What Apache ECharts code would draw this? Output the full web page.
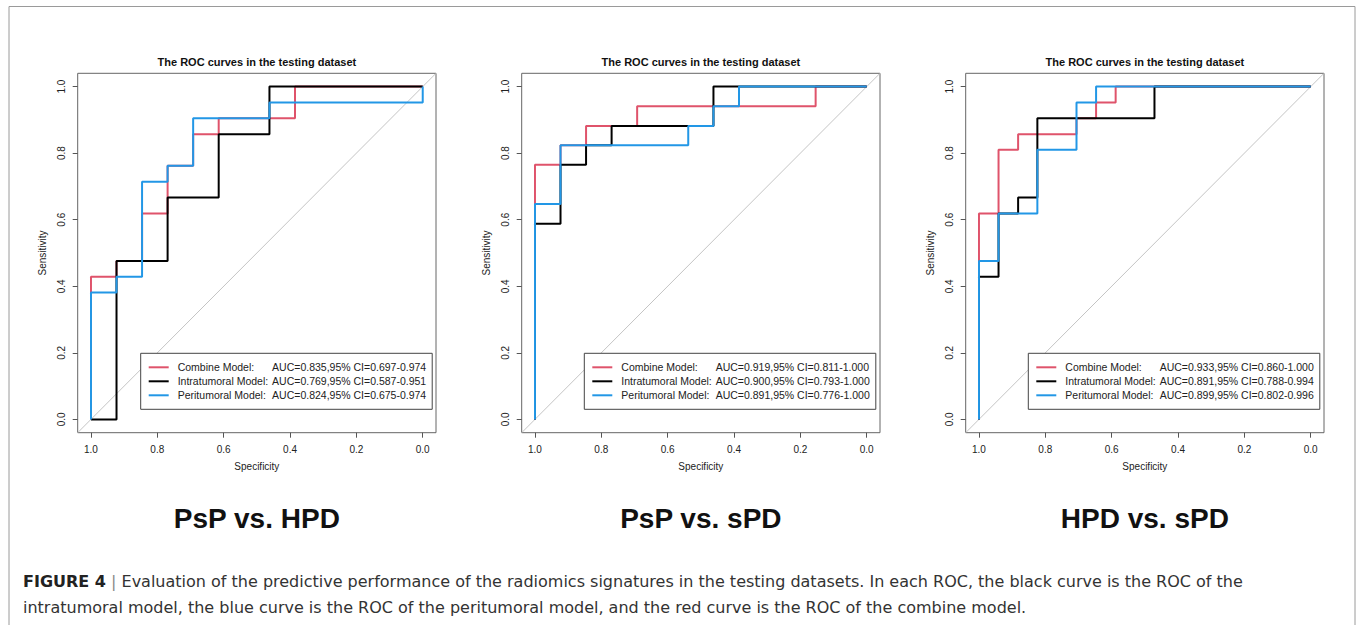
<!DOCTYPE html>
<html>
<head>
<meta charset="utf-8">
<script src="https://cdn.jsdelivr.net/npm/echarts@6/dist/echarts.min.js"></script>
<style>
html,body{margin:0;padding:0;background:#fff;}
#chart{width:1357px;height:625px;}
</style>
</head>
<body>
<div id="chart"></div>
<script>
// ---- tick labels ----
const SPEC_TICKS = [0, 0.2, 0.4, 0.6, 0.8, 1.0];
const SENS_TICKS = [0, 0.2, 0.4, 0.6, 0.8, 1.0];

// ---- panel texts ----
const PLOT_TITLE = 'The ROC curves in the testing dataset';
const PANEL_LABELS = ['PsP vs. HPD', 'PsP vs. sPD', 'HPD vs. sPD'];
const MODEL_NAMES = ['Combine Model:', 'Intratumoral Model:', 'Peritumoral Model:'];
const AUC_P1 = ['AUC=0.835,95% CI=0.697-0.974', 'AUC=0.769,95% CI=0.587-0.951', 'AUC=0.824,95% CI=0.675-0.974'];
const AUC_P2 = ['AUC=0.919,95% CI=0.811-1.000', 'AUC=0.900,95% CI=0.793-1.000', 'AUC=0.891,95% CI=0.776-1.000'];
const AUC_P3 = ['AUC=0.933,95% CI=0.860-1.000', 'AUC=0.891,95% CI=0.788-0.994', 'AUC=0.899,95% CI=0.802-0.996'];

// ---- chance diagonal (abline across plot region) ----
const DIAG_SPEC = [1.04, -0.04];
const DIAG_SENS = [-0.04, 1.04];

// ---- Panel 1: PsP vs. HPD ----
const P1_COMBINE_SPEC = [1, 1, 0.923, 0.923, 0.846, 0.846, 0.769, 0.769, 0.692, 0.692, 0.615, 0.615, 0.385, 0.385, 0];
const P1_COMBINE_SENS = [0, 0.429, 0.429, 0.476, 0.476, 0.619, 0.619, 0.762, 0.762, 0.857, 0.857, 0.905, 0.905, 1, 1];
const P1_INTRA_SPEC = [1, 0.923, 0.923, 0.769, 0.769, 0.615, 0.615, 0.462, 0.462, 0];
const P1_INTRA_SENS = [0, 0, 0.476, 0.476, 0.667, 0.667, 0.857, 0.857, 1, 1];
const P1_PERI_SPEC = [1, 1, 0.923, 0.923, 0.846, 0.846, 0.769, 0.769, 0.692, 0.692, 0.462, 0.462, 0, 0];
const P1_PERI_SENS = [0, 0.381, 0.381, 0.429, 0.429, 0.714, 0.714, 0.762, 0.762, 0.905, 0.905, 0.952, 0.952, 1];

// ---- Panel 2: PsP vs. sPD ----
const P2_COMBINE_SPEC = [1, 1, 0.923, 0.923, 0.846, 0.846, 0.692, 0.692, 0.154, 0.154, 0];
const P2_COMBINE_SENS = [0, 0.765, 0.765, 0.824, 0.824, 0.882, 0.882, 0.941, 0.941, 1, 1];
const P2_INTRA_SPEC = [1, 1, 0.923, 0.923, 0.846, 0.846, 0.769, 0.769, 0.462, 0.462, 0];
const P2_INTRA_SENS = [0, 0.588, 0.588, 0.765, 0.765, 0.824, 0.824, 0.882, 0.882, 1, 1];
const P2_PERI_SPEC = [1, 1, 0.923, 0.923, 0.538, 0.538, 0.462, 0.462, 0.385, 0.385, 0];
const P2_PERI_SENS = [0, 0.647, 0.647, 0.824, 0.824, 0.882, 0.882, 0.941, 0.941, 1, 1];

// ---- Panel 3: HPD vs. sPD ----
const P3_COMBINE_SPEC = [1, 1, 0.941, 0.941, 0.882, 0.882, 0.706, 0.706, 0.647, 0.647, 0.588, 0.588, 0];
const P3_COMBINE_SENS = [0, 0.619, 0.619, 0.810, 0.810, 0.857, 0.857, 0.905, 0.905, 0.952, 0.952, 1, 1];
const P3_INTRA_SPEC = [1, 1, 0.941, 0.941, 0.882, 0.882, 0.824, 0.824, 0.471, 0.471, 0];
const P3_INTRA_SENS = [0, 0.429, 0.429, 0.619, 0.619, 0.667, 0.667, 0.905, 0.905, 1, 1];
const P3_PERI_SPEC = [1, 1, 0.941, 0.941, 0.824, 0.824, 0.706, 0.706, 0.647, 0.647, 0];
const P3_PERI_SENS = [0, 0.476, 0.476, 0.619, 0.619, 0.810, 0.810, 0.952, 0.952, 1, 1];

const CAPTION_LINE1 = 'Evaluation of the predictive performance of the radiomics signatures in the testing datasets. In each ROC, the black curve is the ROC of the';
const CAPTION_LINE2 = 'intratumoral model, the blue curve is the ROC of the peritumoral model, and the red curve is the ROC of the combine model.';

// ---- build ----
const COLORS = ['#DF536B', '#000000', '#2297E6'];
const FONT = '"Liberation Sans", Arial, Helvetica, sans-serif';
const CAP_FONT = '"DejaVu Sans", "Liberation Sans", sans-serif';
const panels = [
  { auc: AUC_P1, curves: [[P1_COMBINE_SPEC, P1_COMBINE_SENS], [P1_INTRA_SPEC, P1_INTRA_SENS], [P1_PERI_SPEC, P1_PERI_SENS]] },
  { auc: AUC_P2, curves: [[P2_COMBINE_SPEC, P2_COMBINE_SENS], [P2_INTRA_SPEC, P2_INTRA_SENS], [P2_PERI_SPEC, P2_PERI_SENS]] },
  { auc: AUC_P3, curves: [[P3_COMBINE_SPEC, P3_COMBINE_SENS], [P3_INTRA_SPEC, P3_INTRA_SENS], [P3_PERI_SPEC, P3_PERI_SENS]] }
];
const zip = (a, b) => a.map((v, i) => [v, b[i]]);

// layout
const GRID_LEFTS = [77.7, 521.7, 965.7];
const GRID_TOP = 73.3, GRID_W = 358.3, GRID_H = 359.4;
const LEGEND_LEFTS = [140.7, 584.3, 1028.3];
const LEGEND_TOP = 353.3;

const grids = [], xAxes = [], yAxes = [], series = [], legends = [], titles = [];

panels.forEach((p, i) => {
  grids.push({ left: GRID_LEFTS[i], top: GRID_TOP, width: GRID_W, height: GRID_H,
    show: true, borderColor: '#666', borderWidth: 1, backgroundColor: 'transparent' });
  xAxes.push({
    gridIndex: i, type: 'value', min: -0.04, max: 1.04, inverse: true, position: 'bottom',
    name: 'Specificity', nameLocation: 'middle', nameGap: 29,
    nameTextStyle: { fontSize: 10, color: '#222', fontFamily: FONT },
    axisLine: { show: false, onZero: false },
    axisTick: { show: true, customValues: SPEC_TICKS, length: 5, lineStyle: { color: '#555' } },
    axisLabel: { customValues: SPEC_TICKS, formatter: v => v.toFixed(1), fontSize: 10, color: '#222', margin: 12, fontFamily: FONT },
    splitLine: { show: false }
  });
  yAxes.push({
    gridIndex: i, type: 'value', min: -0.04, max: 1.04, position: 'left',
    name: 'Sensitivity', nameLocation: 'middle', nameGap: 30,
    nameTextStyle: { fontSize: 10, color: '#222', fontFamily: FONT },
    axisLine: { show: false, onZero: false },
    axisTick: { show: true, customValues: SENS_TICKS, length: 5, lineStyle: { color: '#555' } },
    axisLabel: { customValues: SENS_TICKS, formatter: v => v.toFixed(1), fontSize: 10, color: '#222', margin: 11, rotate: 90, fontFamily: FONT },
    splitLine: { show: false }
  });
  series.push({
    type: 'line', xAxisIndex: i, yAxisIndex: i, name: 'diag' + i,
    data: zip(DIAG_SPEC, DIAG_SENS), symbol: 'none', silent: true,
    lineStyle: { color: '#c4c4c4', width: 1 }, z: 1
  });
  const names = [];
  p.curves.forEach((c, k) => {
    const nm = MODEL_NAMES[k] + '|' + p.auc[k];
    names.push(nm);
    series.push({
      type: 'line', xAxisIndex: i, yAxisIndex: i, name: nm,
      data: zip(c[0], c[1]), symbol: 'none', color: COLORS[k],
      lineStyle: { color: COLORS[k], width: 2 }, z: 2 + k
    });
  });
  legends.push({
    data: names, orient: 'vertical', left: LEGEND_LEFTS[i], top: LEGEND_TOP,
    icon: 'rect', itemWidth: 20, itemHeight: 2, itemGap: 0,
    padding: [7, 6, 7, 8], borderColor: '#444', borderWidth: 1, backgroundColor: '#fff',
    selectedMode: false,
    formatter: n => { const s = n.split('|'); return '{a|' + s[0] + '}{b|' + s[1] + '}'; },
    textStyle: {
      fontSize: 10.5, color: '#222', fontFamily: FONT, lineHeight: 14,
      rich: { a: { width: 94.4, padding: [0, 0, 0, 4], fontSize: 10.5, lineHeight: 14, fontFamily: FONT, color: '#222' },
              b: { fontSize: 10.5, lineHeight: 14, fontFamily: FONT, color: '#222' } }
    }
  });
  const cx = GRID_LEFTS[i] + GRID_W / 2;
  titles.push({
    text: PLOT_TITLE, left: cx, top: 55, textAlign: 'center', padding: 0,
    textStyle: { fontSize: 11, fontWeight: 'bold', color: '#111', fontFamily: FONT, lineHeight: 14 }
  });
  titles.push({
    text: PANEL_LABELS[i], left: cx, top: 502, textAlign: 'center', padding: 0,
    textStyle: { fontSize: 28, fontWeight: 'bold', color: '#111', fontFamily: FONT, lineHeight: 32 }
  });
});

titles.push({
  text: '{b|FIGURE 4}{s| | }' + CAPTION_LINE1 + '\n' + CAPTION_LINE2,
  left: 23, top: 568, padding: 0,
  textStyle: {
    fontSize: 16, color: '#333', fontWeight: 'normal', fontFamily: CAP_FONT, lineHeight: 26,
    rich: {
      b: { fontSize: 16, fontWeight: 'bold', color: '#222', fontFamily: CAP_FONT, lineHeight: 26 },
      s: { fontSize: 16, color: '#888', fontFamily: CAP_FONT, lineHeight: 26 }
    }
  }
});

const chart = echarts.init(document.getElementById('chart'), null, { renderer: 'svg' });
chart.setOption({
  animation: false,
  backgroundColor: '#fff',
  title: titles,
  grid: grids,
  xAxis: xAxes,
  yAxis: yAxes,
  legend: legends,
  series: series,
  graphic: [{
    type: 'rect', silent: true, z: -1,
    shape: { x: 9, y: 6.5, width: 1346, height: 630 },
    style: { fill: 'none', stroke: '#9a9a9a', lineWidth: 1 }
  }]
});
</script>
</body>
</html>
